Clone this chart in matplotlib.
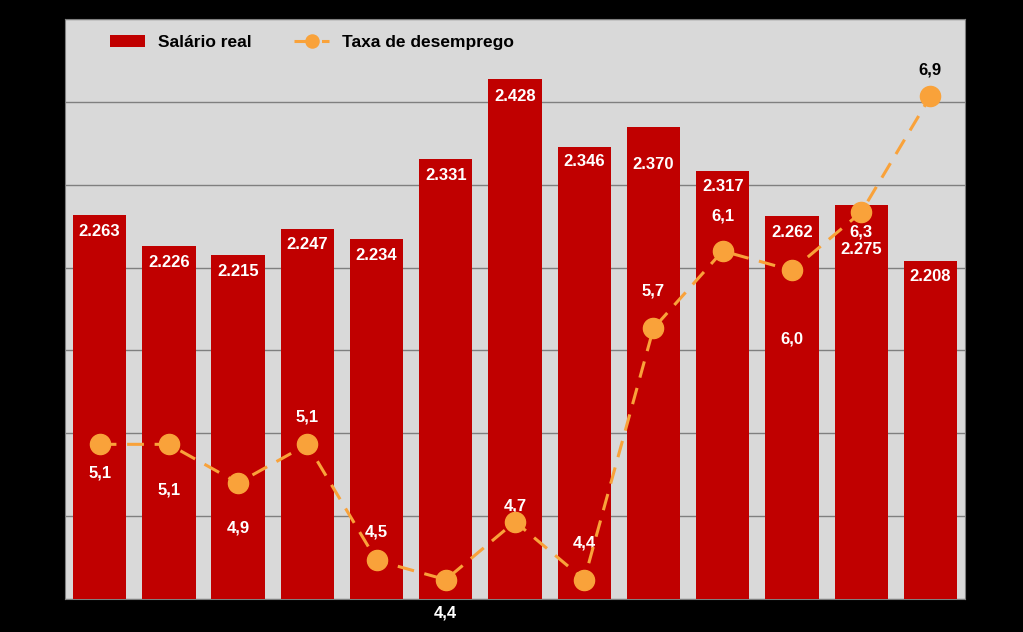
import matplotlib.pyplot as plt
import numpy as np

plt.rcParams['font.family'] = ['Liberation Sans', 'DejaVu Sans']

# dados
salario = [2263, 2226, 2215, 2247, 2234, 2331, 2428, 2346, 2370, 2317, 2262, 2275, 2208]
desemprego = [5.1, 5.1, 4.9, 5.1, 4.5, 4.4, 4.7, 4.4, 5.7, 6.1, 6.0, 6.3, 6.9]

x = np.arange(len(salario))

# deslocamento dos rotulos (pixels)
off_bar = [-16, -16, -16, -16, -16, -16, -18, -15, -38, -16, -16, -44, -16]
off_taxa = [-29, -46, -45, 27, 28, -33, 16, 37, 37, 35, -69, -20, 26]
cor_taxa = ['white'] * 12 + ['black']

fig = plt.figure(figsize=(10.23, 6.32), dpi=100, facecolor='black')
ax = fig.add_axes([65 / 1023, 33 / 632, 900 / 1023, 580 / 632])
ax.set_facecolor('#d9d9d9')

ax.bar(x, salario, width=0.77, color='#c00000', zorder=3, label='Salário real')
ax.set_ylim(1800, 2500)
ax.set_xlim(-0.5, len(salario) - 0.5)
ax.set_yticks(np.arange(1800, 2501, 100))
ax.grid(axis='y', color='#7f7f7f', linewidth=1, zorder=0)
ax.set_xticks([])
ax.tick_params(axis='y', length=0, labelleft=False)
for s in ax.spines.values():
    s.set_color('#7f7f7f')

for i, v in enumerate(salario):
    ax.annotate(f'{v/1000:.3f}', (i, v), xytext=(0, off_bar[i] * 0.72), textcoords='offset points',
                ha='center', va='center', color='white', fontsize=12, fontweight='bold', zorder=6)

ax2 = ax.twinx()
ax2.plot(x, desemprego, color='#f9a23a', linestyle=(0, (5.5, 3.5)), linewidth=2.2,
         marker='o', markersize=14.5, zorder=5, label='Taxa de desemprego')
ax2.set_ylim(4.3, 7.3)
ax2.set_yticks([])
for s in ax2.spines.values():
    s.set_visible(False)

for i, v in enumerate(desemprego):
    ax2.annotate(f'{v:.1f}'.replace('.', ','), (i, v), xytext=(0, off_taxa[i] * 0.72),
                 textcoords='offset points', ha='center', va='center', color=cor_taxa[i],
                 fontsize=12, fontweight='bold', annotation_clip=False)

h1, l1 = ax.get_legend_handles_labels()
h2, l2 = ax2.get_legend_handles_labels()
leg = ax2.legend(h1 + h2, l1 + l2, loc='upper left', bbox_to_anchor=(0.033, 1.0), ncol=2,
                 frameon=False, prop={'weight': 'bold', 'size': 12.5}, columnspacing=2.45,
                 handlelength=2.0, handletextpad=0.75, markerscale=0.65)

plt.savefig('out.png', dpi=100, facecolor='black')
